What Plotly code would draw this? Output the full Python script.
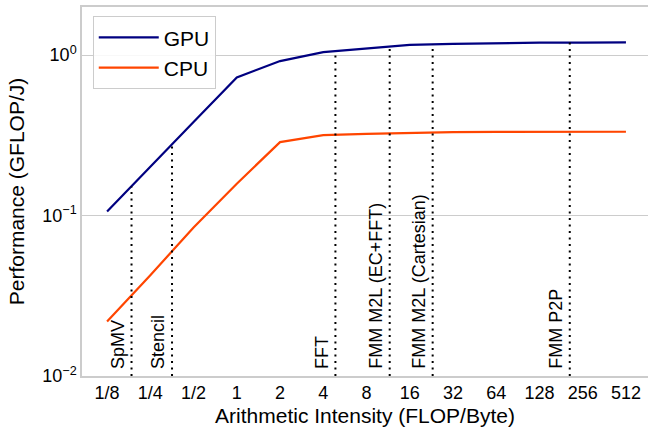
import numpy as np
import plotly.graph_objects as go

# ---- data ----
intensity = [0.125, 0.25, 0.5, 1, 2, 4, 8, 16, 32, 64, 128, 256, 512]
gpu_perf = [0.106, 0.200, 0.383, 0.726, 0.918, 1.044, 1.10, 1.16, 1.175, 1.19, 1.195, 1.198, 1.20]
cpu_perf = [0.0219, 0.0425, 0.0842, 0.158, 0.287, 0.317, 0.323, 0.328, 0.331, 0.332, 0.333, 0.333, 0.333]

kernel_names = ["SpMV", "Stencil", "FFT", "FMM M2L (EC+FFT)", "FMM M2L (Cartesian)", "FMM P2P"]
kernel_intensity = [0.185, 0.354, 4.86, 11.6, 23.1, 208]

x_tick_vals = [0.125, 0.25, 0.5, 1, 2, 4, 8, 16, 32, 64, 128, 256, 512]
x_tick_text = ["1/8", "1/4", "1/2", "1", "2", "4", "8", "16", "32", "64", "128", "256", "512"]
y_tick_vals = [0.01, 0.1, 1]
y_tick_text = ["10<sup>\u22122</sup>", "10<sup>\u22121</sup>", "10<sup>0</sup>"]

FONT = "Liberation Sans, Arial, sans-serif"
GRID = "#cccccc"

fig = go.Figure()
fig.add_trace(go.Scatter(x=intensity, y=gpu_perf, mode="lines", name="GPU",
                         line=dict(color="#000080", width=2.2)))
fig.add_trace(go.Scatter(x=intensity, y=cpu_perf, mode="lines", name="CPU",
                         line=dict(color="#ff4500", width=2.2)))

# vertical dotted markers from the bottom up to the GPU curve
lx = np.log10(intensity)
ly = np.log10(gpu_perf)
for name, xi in zip(kernel_names, kernel_intensity):
    top = 10 ** np.interp(np.log10(xi), lx, ly)
    fig.add_trace(go.Scatter(x=[xi, xi], y=[0.01, top], mode="lines", showlegend=False,
                             hoverinfo="skip",
                             line=dict(color="black", width=2, dash="2px,4.5px")))
    fig.add_annotation(x=np.log10(xi), y=-2, xref="x", yref="y", text=name,
                       textangle=-90, xanchor="right", yanchor="bottom",
                       xshift=-2, yshift=5, showarrow=False,
                       font=dict(family=FONT, size=18, color="black"))

fig.update_layout(
    width=648, height=431,
    margin=dict(l=82, r=0, t=7, b=55),
    paper_bgcolor="white", plot_bgcolor="white",
    font=dict(family=FONT, size=18, color="black"),
    legend=dict(x=0.019, y=0.975, xanchor="left", yanchor="top",
                bgcolor="rgba(255,255,255,0.85)", bordercolor=GRID, borderwidth=1,
                font=dict(family=FONT, size=21, color="black"),
                tracegroupgap=0, itemwidth=60),
    showlegend=True,
)
fig.update_xaxes(type="log", range=[np.log10(2) * -3.58, np.log10(2) * 9.51],
                 tickvals=x_tick_vals, ticktext=x_tick_text, ticks="",
                 showgrid=False, zeroline=False,
                 showline=True, linecolor=GRID, linewidth=1.5, mirror=True,
                 tickfont=dict(family=FONT, size=18, color="black"),
                 title=dict(text="Arithmetic Intensity (FLOP/Byte)", standoff=6,
                            font=dict(family=FONT, size=21, color="black")))
fig.update_yaxes(type="log", range=[-2, 0.30],
                 tickvals=y_tick_vals, ticktext=y_tick_text, ticks="",
                 showgrid=True, gridcolor=GRID, gridwidth=1, zeroline=False,
                 showline=True, linecolor=GRID, linewidth=1.5,
                 tickfont=dict(family=FONT, size=18, color="black"),
                 title=dict(text="Performance (GFLOP/J)", standoff=12,
                            font=dict(family=FONT, size=21, color="black")))

fig.write_html("out.html", config={"displayModeBar": False},
               post_script="document.body.style.margin='0';document.body.style.overflow='hidden';")
